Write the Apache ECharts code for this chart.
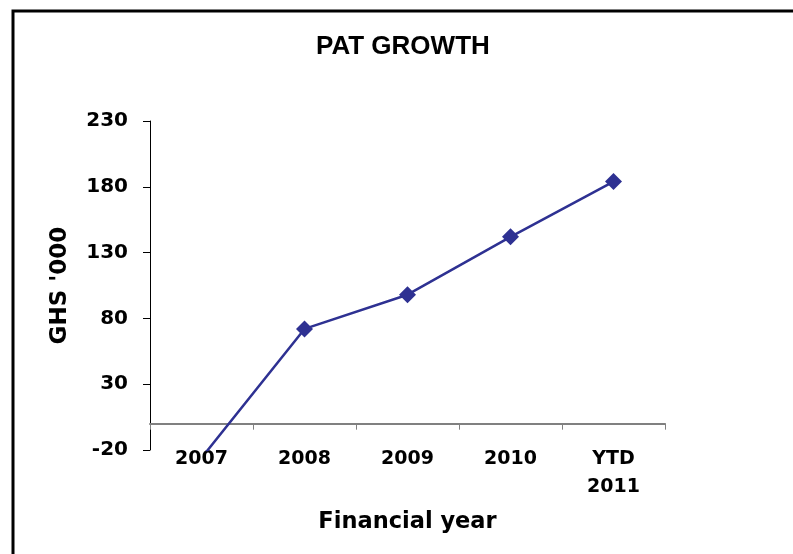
<!DOCTYPE html>
<html>
<head>
<meta charset="utf-8">
<script src="https://cdn.jsdelivr.net/npm/echarts@6/dist/echarts.min.js"></script>
<style>
  html, body { margin: 0; padding: 0; background: #fff; }
  #chart { width: 793px; height: 554px; }
</style>
</head>
<body>
<div id="chart"></div>
<script>
// financial years and profit after tax (GHS '000)
var years = ['2007', '2008', '2009', '2010', 'YTD\n2011'];
var patValues = [-26, 72, 98, 142, 184];
var yMin = -20, yMax = 230, yStep = 50;

var chart = echarts.init(document.getElementById('chart'));

var option = {
    backgroundColor: '#fff',
    animation: false,
    graphic: [{
        type: 'rect',
        shape: { x: 13, y: 11, width: 900, height: 700 },
        style: { fill: 'none', stroke: '#000', lineWidth: 3 }
    }],
    title: {
        text: 'PAT GROWTH',
        left: 311,
        top: 29,
        textStyle: {
            fontFamily: 'Liberation Sans',
            fontWeight: 'bold',
            fontSize: 26,
            color: '#000'
        }
    },
    grid: {
        left: 150,
        right: 128,
        top: 121,
        bottom: 104,
        containLabel: false,
        outerBoundsMode: 'none'
    },
    xAxis: {
        type: 'category',
        data: years,
        boundaryGap: true,
        axisLine: { onZero: true, lineStyle: { color: '#808080', width: 2 } },
        axisTick: { show: true, length: 6, lineStyle: { color: '#808080', width: 1 } },
        axisLabel: {
            margin: -5,
            fontFamily: 'DejaVu Sans',
            fontWeight: 'bold',
            fontSize: 19,
            lineHeight: 28,
            color: '#000'
        },
        name: 'Financial year',
        nameLocation: 'middle',
        nameGap: 61,
        nameTextStyle: {
            fontFamily: 'DejaVu Sans',
            fontWeight: 'bold',
            fontSize: 22.5,
            color: '#000'
        }
    },
    yAxis: {
        type: 'value',
        min: yMin,
        max: yMax,
        interval: yStep,
        splitLine: { show: false },
        axisLine: { show: true, onZero: false, lineStyle: { color: '#000', width: 1 } },
        axisTick: { show: true, length: 7, lineStyle: { color: '#000' } },
        axisLabel: {
            margin: 22,
            fontFamily: 'DejaVu Sans',
            fontWeight: 'bold',
            fontSize: 20,
            color: '#000'
        },
        name: "GHS '000",
        nameLocation: 'middle',
        nameGap: 78,
        nameTextStyle: {
            fontFamily: 'DejaVu Sans',
            fontWeight: 'bold',
            fontSize: 23,
            color: '#000'
        }
    },
    series: [{
        name: 'PAT',
        type: 'line',
        data: patValues,
        clip: true,
        symbol: 'diamond',
        symbolSize: 17,
        lineStyle: { color: '#2E3192', width: 2.5 },
        itemStyle: { color: '#2E3192' }
    }]
};

chart.setOption(option);
</script>
</body>
</html>
